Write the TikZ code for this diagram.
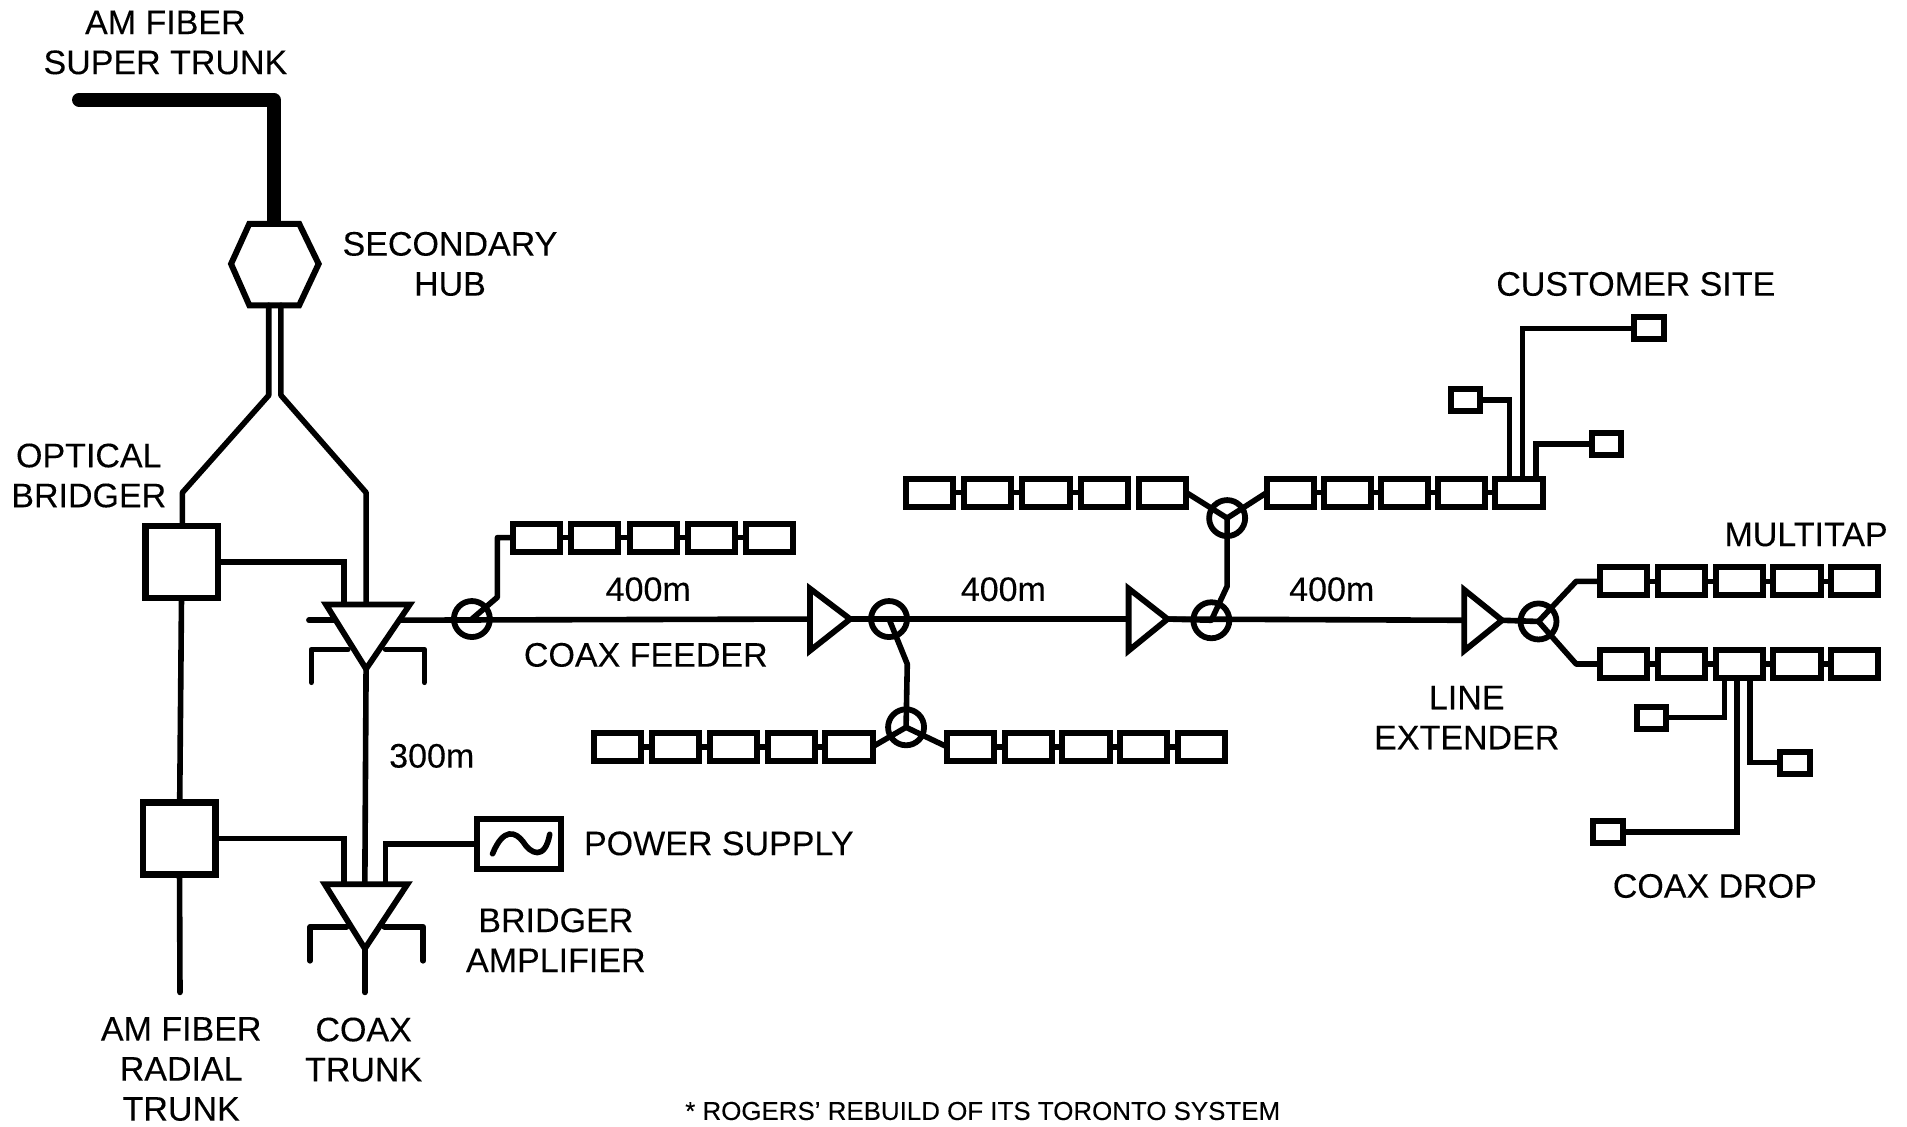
\documentclass[tikz,border=0pt]{standalone}
\usepackage{fontspec}
\setmainfont[FakeBold=0.15]{Liberation Sans}
\tikzset{
  x=0.6081pt,y=-0.6081pt,
  wire/.style={line width=2.8pt,line cap=round,line join=miter},
  tapbox/.style={draw,line width=3pt,minimum width=23.6pt,minimum height=14pt,inner sep=0pt,outer sep=0pt,fill=white},
  dropbox/.style={draw,line width=3pt,minimum width=14.8pt,minimum height=11pt,inner sep=0pt,outer sep=0pt,fill=white},
  bigbox/.style={draw,line width=3.2pt,minimum width=36.2pt,minimum height=36pt,inner sep=0pt,outer sep=0pt,fill=white},
  ring/.style={circle,draw,line width=2.9pt,minimum size=18pt,inner sep=0pt,outer sep=0pt},
  tri/.style={line width=2.9pt,line join=miter,fill=white},
  lab/.style={font=\fontsize{17}{20}\selectfont,align=center,inner sep=0pt},
  smalllab/.style={font=\fontsize{12.95}{15}\selectfont,inner sep=0pt},
}
\begin{document}
\begin{tikzpicture}
\useasboundingbox (0,0) rectangle (1568,926);
% labels
\node[lab] (tl1) at (136,35) {AM FIBER\\[0pt]SUPER TRUNK};
\node[lab] (tl2) at (370,217) {SECONDARY\\HUB};
\node[lab] (tl3) at (73,391) {OPTICAL\\BRIDGER};
\node[lab] (tl4) at (1345,233.5) {CUSTOMER SITE};
\node[lab] (tl5) at (1485,439.5) {MULTITAP};
\node[lab] (tl6) at (533,484.5) {400m};
\node[lab] (tl7) at (825,484.5) {400m};
\node[lab] (tl8) at (1095,484.5) {400m};
\node[lab] (tl9) at (531,538.5) {COAX FEEDER};
\node[lab] (tl10) at (1206,590) {LINE\\EXTENDER};
\node[lab] (tl11) at (355,621.5) {300m};
\node[lab] (tl12) at (591,693.5) {POWER SUPPLY};
\node[lab] (tl13) at (457,773) {BRIDGER\\AMPLIFIER};
\node[lab] (tl14) at (1410,728.5) {COAX DROP};
\node[lab] (tl15) at (149,879) {AM FIBER\\RADIAL\\TRUNK};
\node[lab] (tl16) at (299,863) {COAX\\TRUNK};
\node[smalllab] (tl17) at (808,913.5) {* ROGERS' REBUILD OF ITS TORONTO SYSTEM};

% super trunk and hub
\coordinate (st0) at (65,82);
\coordinate (st1) at (225,82);
\coordinate (hubtop) at (225,184);
\draw[line width=7pt,line cap=round,line join=round] (st0) -- (st1) -- (hubtop);
\coordinate (h1) at (205,184);\coordinate (h2) at (246,184);\coordinate (h3) at (262,217);
\coordinate (h4) at (246,251);\coordinate (h5) at (205,251);\coordinate (h6) at (190,217);
\draw[line width=3pt,line join=miter,fill=white] (h1) -- (h2) -- (h3) -- (h4) -- (h5) -- (h6) -- cycle;

% boxes
\node[bigbox] (ob1) at (149.5,462) {};
\node[bigbox] (ob2) at (147.5,689.5) {};

% optical fibres
\coordinate (fl0) at (221,251);\coordinate (fl1) at (221,325);\coordinate (fl2) at (150,405);
\coordinate (fr0) at (231,251);\coordinate (fr1) at (231,325);\coordinate (fr2) at (301,405);
\coordinate (ob1t) at (150,431);
\coordinate (a1top) at (301,495);
\draw[wire,line join=round] (fl0) -- (fl1) -- (fl2) -- (ob1t);
\draw[wire,line join=round] (fr0) -- (fr1) -- (fr2) -- (a1top);
\draw[wire] (ob1) -- (ob2);
\coordinate (rend) at (148,816);
\draw[wire] (ob2) -- (rend);

% amp 1 and amp 2 connectors
\coordinate (a1l) at (283,495);
\coordinate (a2l) at (283,725);
\coordinate (a2r) at (317,725);
\coordinate (a1a) at (301,550);
\coordinate (a2a) at (300,780);
\coordinate (a2top) at (300,725);
\coordinate (cend) at (300,816);
\draw[wire,line cap=butt] (ob1.east) -| (a1l);
\draw[wire,line cap=butt] (ob2.east) -| (a2l);
\draw[wire] (a1a) -- (a2top);
\draw[wire] (a2a) -- (cend);
\node[draw,line width=3pt,minimum width=42pt,minimum height=25pt,inner sep=0pt,outer sep=0pt] (ps) at (426.5,694) {};
\draw[wire,line cap=butt] (ps.west) -| (a2r);
\draw[line width=2.8pt,line cap=round] (405,702) .. controls (414,680) and (424,684) .. (430,692) .. controls (436,702) and (448,708) .. (452,686);

% main coax
\node[ring] (c1) at (388,509) {};
\node[ring] (c2) at (731,509) {};
\node[ring] (c3) at (996,510) {};
\node[ring] (c4) at (1265,511) {};
\node[ring] (s1) at (745,598) {};
\node[ring] (s2) at (1009,426) {};
\coordinate (stub) at (254,510);
\coordinate (t1) at (665,509);
\coordinate (t1a) at (699,509);
\coordinate (t2) at (927,509);
\coordinate (t2a) at (960,509);
\coordinate (t3) at (1203,510);
\coordinate (t3a) at (1235,510);
\coordinate (a1m) at (301,510);
\draw[wire] (stub) -- (a1m);
\draw[wire,line cap=butt] (a1m) -- (t1);
\draw[wire,line cap=butt] (t1a) -- (t2);
\draw[wire,line cap=butt] (t2a) -- (t3);
\draw[wire,line cap=butt] (t3a) -- (c4.center);

% chains
\foreach \i in {0,...,4}{
  \node[tapbox] (a\i) at ({441*1+48*\i},442) {};
  \node[tapbox] (b\i) at ({508*1+47.5*\i},614) {};
  \node[tapbox] (m\i) at ({798*1+47.5*\i},614) {};
  \node[tapbox] (d\i) at ({764*1+48*\i},405) {};
  \node[tapbox] (e\i) at ({1061*1+47*\i},405) {};
  \node[tapbox] (f\i) at ({1335*1+47.5*\i},478) {};
  \node[tapbox] (g\i) at ({1335*1+47.5*\i},546) {};
}
\foreach \i/\j in {0/1,1/2,2/3,3/4}{
  \draw[wire,line cap=butt] (a\i) -- (a\j);
  \draw[wire,line cap=butt] (b\i) -- (b\j);
  \draw[wire,line cap=butt] (m\i) -- (m\j);
  \draw[wire,line cap=butt] (e\i) -- (e\j);
  \draw[wire,line cap=butt] (f\i) -- (f\j);
  \draw[wire,line cap=butt] (g\i) -- (g\j);
}
\draw[wire,line cap=butt] (d0) -- (d1);
\draw[wire,line cap=butt] (d1) -- (d2);
\draw[wire,line cap=butt] (d2) -- (d3);
\coordinate (ca1) at (409,491);\coordinate (ca2) at (409,442);
\draw[wire,line join=round] (c1.center) -- (ca1) -- (ca2) -- (a0.west);
\coordinate (cb1) at (746,546);
\draw[wire,line join=round] (c2.center) -- (cb1) -- (s1.center);
\draw[wire,line cap=butt] (s1.center) -- (b4.east);
\draw[wire,line cap=butt] (s1.center) -- (m0.west);
\coordinate (cc1) at (1009,482);
\draw[wire,line join=round] (c3.center) -- (cc1) -- (s2.center);
\draw[wire,line cap=butt] (s2.center) -- (d4.east);
\draw[wire,line cap=butt] (s2.center) -- (e0.west);
\coordinate (ce1) at (1296,478);\coordinate (ce2) at (1296,546);
\draw[wire,line join=round] (c4.center) -- (ce1) -- (f0.west);
\draw[wire,line join=round] (c4.center) -- (ce2) -- (g0.west);

% triangles
\coordinate (p1) at (268,497);\coordinate (p2) at (337,497);
\draw[tri] (p1) -- (p2) -- (a1a) -- cycle;
\coordinate (p3) at (267,727);\coordinate (p4) at (335,727);
\draw[tri] (p3) -- (p4) -- (a2a) -- cycle;
\coordinate (q1) at (666,484);\coordinate (q2) at (666,535);
\draw[tri] (q1) -- (t1a) -- (q2) -- cycle;
\coordinate (q3) at (928,484);\coordinate (q4) at (928,535);
\draw[tri] (q3) -- (t2a) -- (q4) -- cycle;
\coordinate (q5) at (1204,485);\coordinate (q6) at (1204,535);
\draw[tri] (q5) -- (t3a) -- (q6) -- cycle;
\draw[wire,line cap=butt] (t1a) -- (c2.center);
\draw[wire,line cap=butt] (t2a) -- (c3.center);

% bracket ground symbols
\coordinate (b1a) at (256,561);\coordinate (b1b) at (256,534);\coordinate (b1c) at (286,534);
\coordinate (b2a) at (349,561);\coordinate (b2b) at (349,534);\coordinate (b2c) at (317,534);
\coordinate (b3a) at (255,790);\coordinate (b3b) at (255,762);\coordinate (b3c) at (285,762);
\coordinate (b4a) at (348,790);\coordinate (b4b) at (348,762);\coordinate (b4c) at (316,762);
\draw[wire,line join=round] (b1a) -- (b1b) -- (b1c);
\draw[wire,line join=round] (b2a) -- (b2b) -- (b2c);
\draw[wire,line join=round] (b3a) -- (b3b) -- (b3c);
\draw[wire,line join=round] (b4a) -- (b4b) -- (b4c);

% drops
\node[dropbox] (u1) at (1356,270) {};
\node[dropbox] (u2) at (1205,329) {};
\node[dropbox] (u3) at (1321,365) {};
\node[dropbox] (v1) at (1358,590) {};
\node[dropbox] (v2) at (1322,684) {};
\node[dropbox] (v3) at (1476,627) {};
\coordinate (eu1) at (1252,393);\coordinate (eu2) at (1241,393);\coordinate (eu3) at (1263,393);
\coordinate (gv1) at (1418,559);\coordinate (gv2) at (1428,559);\coordinate (gv3) at (1439,559);
\draw[wire,line cap=butt] (eu1) |- (u1.west);
\draw[wire,line cap=butt] (eu2) |- (u2.east);
\draw[wire,line cap=butt] (eu3) |- (u3.west);
\draw[wire,line cap=butt] (gv1) |- (v1.east);
\draw[wire,line cap=butt] (gv2) |- (v2.east);
\draw[wire,line cap=butt] (gv3) |- (v3.west);
\end{tikzpicture}
\end{document}
